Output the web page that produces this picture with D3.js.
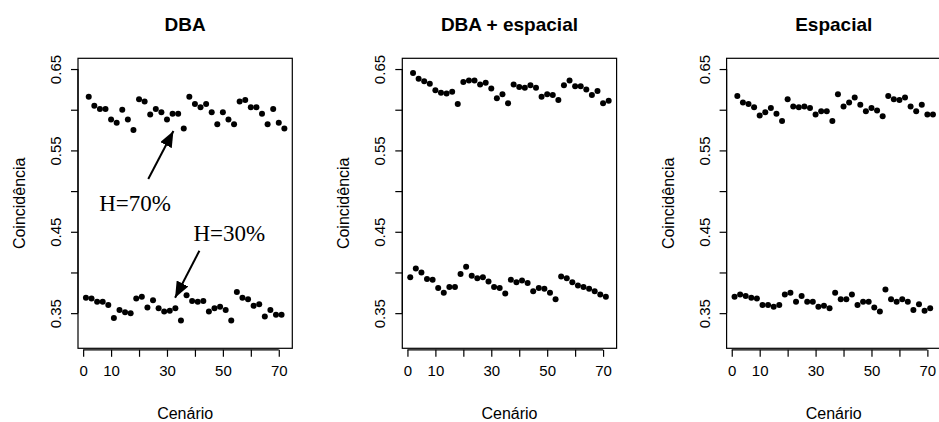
<!DOCTYPE html>
<html>
<head>
<meta charset="utf-8">
<script src="https://cdn.jsdelivr.net/npm/d3@7"></script>
<style>
  body { margin: 0; background: #fff; }
  text { font-family: "Liberation Sans", Arial, sans-serif; fill: #000; }
</style>
</head>
<body>
<svg id="chart"></svg>
<script>
// scenario numbers: H=70% on even scenarios, H=30% on odd ones
const scenH70 = [2,4,6,8,10,12,14,16,18,20,22,24,26,28,30,32,34,36,38,40,42,44,46,48,50,52,54,56,58,60,62,64,66,68,70,72];
const scenH30 = [1,3,5,7,9,11,13,15,17,19,21,23,25,27,29,31,33,35,37,39,41,43,45,47,49,51,53,55,57,59,61,63,65,67,69,71];

const panelTitles = ["DBA", "DBA + espacial", "Espacial"];

const dbaH70 = [0.616,0.605,0.601,0.601,0.588,0.584,0.600,0.588,0.575,0.613,0.610,0.594,0.601,0.597,0.588,0.595,0.595,0.577,
                0.616,0.607,0.603,0.607,0.597,0.582,0.597,0.588,0.582,0.610,0.612,0.603,0.603,0.595,0.582,0.601,0.584,0.577];
const dbaH30 = [0.369,0.368,0.364,0.364,0.360,0.344,0.354,0.351,0.350,0.368,0.370,0.357,0.366,0.356,0.352,0.353,0.356,0.341,
                0.372,0.365,0.364,0.365,0.352,0.356,0.358,0.354,0.341,0.376,0.369,0.367,0.359,0.361,0.346,0.354,0.348,0.348];

const dbaEspH70 = [0.645,0.638,0.635,0.632,0.624,0.621,0.620,0.622,0.607,0.634,0.636,0.636,0.631,0.633,0.626,0.614,0.619,0.608,
                   0.631,0.628,0.627,0.630,0.627,0.616,0.619,0.618,0.612,0.630,0.636,0.629,0.629,0.625,0.618,0.623,0.608,0.611];
const dbaEspH30 = [0.394,0.405,0.400,0.392,0.391,0.381,0.375,0.382,0.382,0.398,0.407,0.396,0.393,0.394,0.389,0.382,0.381,0.374,
                   0.391,0.388,0.390,0.387,0.377,0.381,0.380,0.375,0.367,0.395,0.393,0.388,0.384,0.382,0.380,0.377,0.373,0.370];

const espH70 = [0.617,0.609,0.607,0.603,0.593,0.597,0.602,0.595,0.586,0.613,0.604,0.603,0.604,0.602,0.594,0.598,0.598,0.586,
                0.619,0.604,0.609,0.615,0.606,0.598,0.602,0.599,0.592,0.617,0.613,0.612,0.615,0.604,0.598,0.606,0.594,0.594];
const espH30 = [0.370,0.373,0.371,0.369,0.368,0.360,0.360,0.358,0.360,0.373,0.375,0.364,0.371,0.364,0.364,0.358,0.359,0.356,
                0.375,0.367,0.367,0.373,0.360,0.364,0.364,0.357,0.352,0.379,0.367,0.364,0.367,0.364,0.354,0.361,0.353,0.356];

const xTicks = [0,10,20,30,40,50,60,70];
const xLabels = [0,10,30,50,70];
const yTicks = [0.35,0.40,0.45,0.50,0.55,0.60,0.65];
const yLabels = [0.35,0.45,0.55,0.65];

// annotations (only on the first panel): [label, text x, text y, tail x, tail y, tip x, tip y]
const notes = [
  ["H=70%", 18.6, 0.4755, 23.3, 0.5149, 32.3, 0.5739],
  ["H=30%", 52.3, 0.4387, 41.6, 0.4267, 32.9, 0.3690]
];

const panels = [
  {title: panelTitles[0], hi: dbaH70, lo: dbaH30},
  {title: panelTitles[1], hi: dbaEspH70, lo: dbaEspH30},
  {title: panelTitles[2], hi: espH70, lo: espH30}
];

const W = 939, H = 422;
const svg = d3.select("#chart").attr("width", W).attr("height", H);

svg.append("defs").append("marker")
  .attr("id", "head")
  .attr("viewBox", "0 0 16 13")
  .attr("refX", 16).attr("refY", 6.5)
  .attr("markerWidth", 16).attr("markerHeight", 13)
  .attr("markerUnits", "userSpaceOnUse")
  .attr("orient", "auto")
  .append("path").attr("d", "M0,0 L16,6.5 L0,13 Z").attr("fill", "#000");

const panelW = 324.3;
const box = {left: 78, right: 292.3, top: 58.3, bottom: 348.3};

// R-style ranges: 4% padding around x = 1..72 and ylim 0.32..0.65
const x = d3.scaleLinear().domain([1 - 0.04 * 71, 72 + 0.04 * 71]).range([box.left, box.right]);
const y = d3.scaleLinear().domain([0.32 - 0.04 * 0.33, 0.65 + 0.04 * 0.33]).range([box.bottom, box.top]);

panels.forEach((p, i) => {
  const g = svg.append("g").attr("transform", `translate(${i * panelW},0)`);

  g.append("rect")
    .attr("x", box.left).attr("y", box.top)
    .attr("width", box.right - box.left).attr("height", box.bottom - box.top)
    .attr("fill", "none").attr("stroke", "#000").attr("stroke-width", 1.2);

  // x axis
  const xa = g.append("g")
    .attr("transform", `translate(0,${box.bottom + 1.5})`)
    .call(d3.axisBottom(x).tickValues(xTicks).tickSize(7).tickPadding(9)
      .tickFormat(d => xLabels.includes(d) ? d : ""));
  xa.select(".domain").attr("d", `M${x(0)},0H${x(70)}`).attr("stroke-width", 1.2);
  xa.selectAll(".tick line").attr("stroke-width", 1.2);
  xa.selectAll("text").style("font-size", "15px").attr("fill", "#000");

  // y axis, labels rotated like R's default las=0
  const ya = g.append("g")
    .attr("transform", `translate(${box.left},0)`)
    .call(d3.axisLeft(y).tickValues(yTicks).tickSize(7)
      .tickFormat(d => yLabels.some(v => Math.abs(v - d) < 1e-9) ? d3.format(".2f")(d) : ""));
  ya.select(".domain").attr("d", `M0,${y(0.35)}V${y(0.65)}`).attr("stroke-width", 1.2);
  ya.selectAll(".tick line").attr("stroke-width", 1.2);
  ya.selectAll("text")
    .style("font-size", "15px").attr("fill", "#000")
    .attr("x", 0).attr("dy", null)
    .attr("transform", "translate(-17,0) rotate(-90)")
    .attr("text-anchor", "middle");

  // titles
  g.append("text")
    .attr("x", (box.left + box.right) / 2).attr("y", 31)
    .attr("text-anchor", "middle")
    .style("font-size", "19px").style("font-weight", "bold")
    .text(p.title);

  g.append("text")
    .attr("x", (box.left + box.right) / 2).attr("y", 419)
    .attr("text-anchor", "middle")
    .style("font-size", "16px")
    .text("Cenário");

  g.append("text")
    .attr("transform", `translate(25,${(box.top + box.bottom) / 2}) rotate(-90)`)
    .attr("text-anchor", "middle")
    .style("font-size", "16px")
    .text("Coincidência");

  // points
  const pts = scenH70.map((s, k) => [s, p.hi[k]]).concat(scenH30.map((s, k) => [s, p.lo[k]]));
  g.selectAll("circle")
    .data(pts)
    .enter()
    .append("circle")
    .attr("cx", d => x(d[0]))
    .attr("cy", d => y(d[1]))
    .attr("r", 3)
    .attr("fill", "#000");

  if (i === 0) {
    notes.forEach(n => {
      g.append("line")
        .attr("x1", x(n[3])).attr("y1", y(n[4]))
        .attr("x2", x(n[5])).attr("y2", y(n[6]))
        .attr("stroke", "#000").attr("stroke-width", 2)
        .attr("marker-end", "url(#head)");
      g.append("text")
        .attr("x", x(n[1])).attr("y", y(n[2]))
        .attr("text-anchor", "middle")
        .style("font-family", "'Liberation Serif', 'Times New Roman', serif")
        .style("font-size", "23px")
        .text(n[0]);
    });
  }
});
</script>
</body>
</html>
